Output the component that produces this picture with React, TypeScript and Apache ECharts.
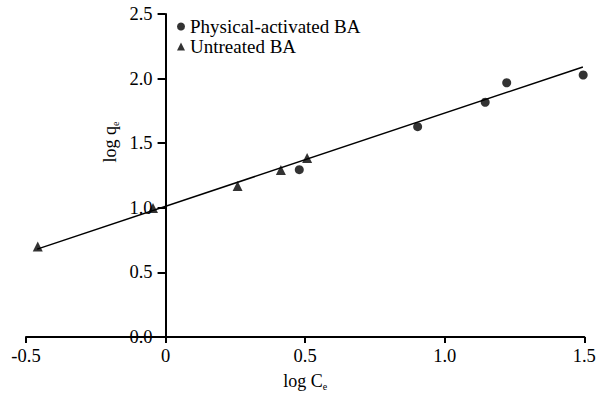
import React, { useEffect, useRef } from "react";
import * as echarts from "echarts";

const physicalX = [0.479, 0.903, 1.145, 1.222, 1.496];
const physicalY = [1.295, 1.628, 1.817, 1.968, 2.028];
const untreatedX = [-0.458, -0.045, 0.258, 0.413, 0.507];
const untreatedY = [0.7, 0.998, 1.169, 1.293, 1.385];
const fitX = [-0.46, 1.495];
const fitY = [0.68, 2.09];
const seriesNames = ["Physical-activated BA", "Untreated BA"];

const FONT = "'Liberation Serif', 'Times New Roman', serif";
const GRID_LEFT = 26;
const GRID_RIGHT = 21.7;
const X_MIN = -0.5;
const X_MAX = 1.5;

export default function App() {
  const ref = useRef<HTMLDivElement>(null);
  useEffect(() => {
    if (!ref.current) return;
    const chart = echarts.init(ref.current, null, { renderer: "svg" });
    const pair = (xs: number[], ys: number[]) => xs.map((x, i) => [x, ys[i]]);
    const plotW = 606 - GRID_LEFT - GRID_RIGHT;
    const zeroOffset = ((0 - X_MIN) / (X_MAX - X_MIN)) * plotW;
    const axisCommon = {
      axisLine: { show: true, onZero: false, lineStyle: { color: "#000", width: 2 } },
      axisTick: { show: true, inside: false, length: 7, lineStyle: { color: "#000", width: 2 } },
      splitLine: { show: false },
      axisLabel: { color: "#000", fontFamily: FONT, fontSize: 18.5 },
    };
    chart.setOption({
      animation: false,
      backgroundColor: "#fff",
      grid: { left: GRID_LEFT, right: GRID_RIGHT, top: 14, bottom: 59, containLabel: false },
      xAxis: {
        type: "value",
        min: X_MIN,
        max: X_MAX,
        interval: 0.5,
        ...axisCommon,
        axisTick: { ...axisCommon.axisTick, length: 6 },
        axisLabel: {
          ...axisCommon.axisLabel,
          margin: 9,
          formatter: (v: number) => (Math.abs(v) < 1e-9 ? "0" : v.toFixed(1)),
        },
        name: "log C{s|e}",
        nameLocation: "middle",
        nameGap: 34,
        nameTextStyle: {
          color: "#000",
          fontFamily: FONT,
          fontSize: 18,
          rich: { s: { fontSize: 10, fontFamily: FONT, color: "#000", padding: [10, 0, 0, 0] } },
        },
      },
      yAxis: {
        type: "value",
        min: 0,
        max: 2.5,
        interval: 0.5,
        offset: -zeroOffset,
        ...axisCommon,
        axisTick: { ...axisCommon.axisTick, length: 8 },
        axisLabel: {
          ...axisCommon.axisLabel,
          margin: 13,
          formatter: (v: number) => v.toFixed(1),
        },
      },
      legend: {
        orient: "vertical",
        left: 172,
        top: 12,
        itemWidth: 8,
        itemHeight: 8,
        itemGap: 1,
        data: [
          { name: seriesNames[0], icon: "circle" },
          { name: seriesNames[1], icon: "triangle" },
        ],
        textStyle: { color: "#000", fontFamily: FONT, fontSize: 19 },
      },
      graphic: [
        {
          type: "text",
          x: 110,
          y: 142,
          rotation: Math.PI / 2,
          style: {
            text: "log q{s|e}",
            fontFamily: FONT,
            fontSize: 18,
            fill: "#000",
            align: "center",
            verticalAlign: "middle",
            rich: { s: { fontSize: 10, fontFamily: FONT, fill: "#000", padding: [10, 0, 0, 0] } },
          },
        },
      ],
      series: [
        {
          name: "fit",
          type: "line",
          data: pair(fitX, fitY),
          symbol: "none",
          lineStyle: { color: "#000", width: 1.5 },
          z: 1,
        },
        {
          name: seriesNames[0],
          type: "scatter",
          data: pair(physicalX, physicalY),
          symbol: "circle",
          symbolSize: 9,
          itemStyle: { color: "#000" },
          z: 3,
        },
        {
          name: seriesNames[1],
          type: "scatter",
          data: pair(untreatedX, untreatedY),
          symbol: "triangle",
          symbolSize: 10,
          itemStyle: { color: "#000" },
          z: 3,
        },
      ],
    });
    return () => chart.dispose();
  }, []);
  return (
    <div
      ref={ref}
      style={{ position: "fixed", left: 0, top: 0, width: 606, height: 396, background: "#fff" }}
    />
  );
}
